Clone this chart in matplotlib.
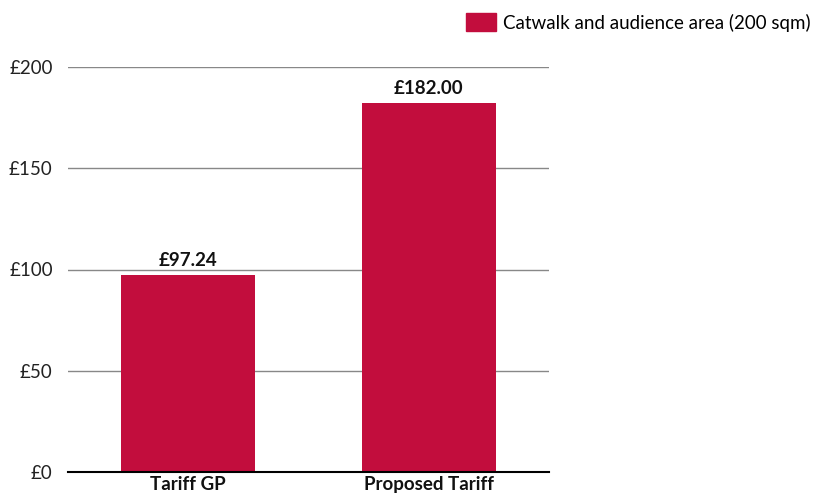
import matplotlib.pyplot as plt
from matplotlib.patches import Patch

categories = ["Tariff GP", "Proposed Tariff"]
values = [97.24, 182.00]
series_name = "Catwalk and audience area (200 sqm)"
yticks = [0, 50, 100, 150, 200]

BAR_COLOR = "#C20D3D"
FS = 13.5

plt.rcParams["font.family"] = ["Lato", "DejaVu Sans"]

fig = plt.figure(figsize=(8.24, 4.96), dpi=100)
ax = fig.add_axes([68 / 824, 24 / 496, 481 / 824, 405 / 496])

x = range(len(categories))
ax.bar(x, values, width=0.557, color=BAR_COLOR, zorder=3)
for xi, v in zip(x, values):
    ax.text(xi, v + 3, f"£{v:.2f}", ha="center", va="bottom",
            fontsize=FS, fontweight="bold", color="#111111")

ax.set_xlim(-0.5, len(categories) - 0.5)
ax.set_ylim(0, 200)
ax.set_yticks(yticks)
ax.set_yticklabels([f"£{t}" for t in yticks], fontsize=FS, color="#222222")
ax.set_xticks(list(x))
ax.set_xticklabels(categories, fontsize=FS, fontweight="bold", color="#111111")
ax.tick_params(axis="both", length=0)
ax.tick_params(axis="y", pad=11)
ax.tick_params(axis="x", pad=3)

ax.grid(axis="y", color="#888888", linewidth=1, zorder=0)
for s in ["top", "right", "left"]:
    ax.spines[s].set_visible(False)
ax.spines["bottom"].set_color("black")
ax.spines["bottom"].set_linewidth(1.5)
ax.spines["bottom"].set_zorder(4)

fig.legend(handles=[Patch(color=BAR_COLOR, label=series_name)],
           loc="upper right", bbox_to_anchor=(1.0, 1.0), frameon=False,
           fontsize=FS, handlelength=1.6, handleheight=1.1, handletextpad=0.4,
           borderaxespad=0.3)

fig.savefig("out.png", dpi=100)
